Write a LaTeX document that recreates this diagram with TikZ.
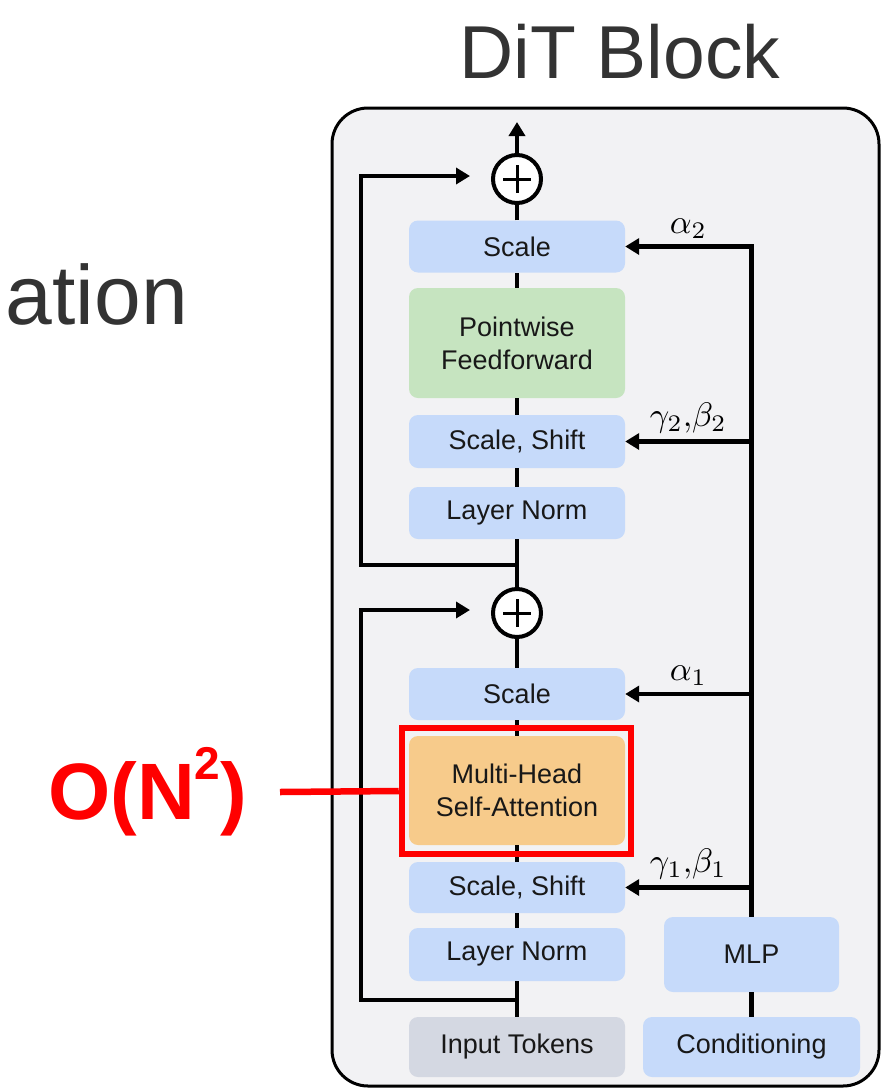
\documentclass[tikz,border=0pt]{standalone}
\usepackage{fontspec}
\usepackage{graphicx}
\setmainfont{Liberation Sans}
\usetikzlibrary{arrows.meta,calc}
\definecolor{panelbg}{RGB}{242,242,244}
\definecolor{boxblue}{RGB}{198,218,250}
\definecolor{boxgreen}{RGB}{198,228,192}
\definecolor{boxorange}{RGB}{247,203,139}
\definecolor{boxgray}{RGB}{212,216,226}
\definecolor{txtdark}{RGB}{24,24,24}
\definecolor{titlegray}{RGB}{51,51,51}
\definecolor{hired}{RGB}{255,0,0}
\begin{document}
\begin{tikzpicture}[x=1pt,y=-1pt,
  blk/.style={rounded corners=9pt, minimum width=216pt, inner sep=0pt, align=center,
    text=txtdark, font=\fontsize{27}{33}\selectfont},
  blue/.style={blk, fill=boxblue},
  line/.style={line width=4.5pt},
  arr/.style={line width=4.5pt, -{Triangle[length=14pt,width=16pt]}},
  plusc/.style={circle, draw=black, fill=white, line width=4pt, minimum size=48pt, inner sep=0pt},
  lab/.style={inner sep=0pt}
]
\useasboundingbox (0,0) rectangle (881,1090);

% titles
\node[anchor=base, text=titlegray, font=\fontsize{75}{80}\selectfont] (title) at (620,78) {DiT Block};
\node[anchor=base east, text=titlegray, font=\fontsize{84}{90}\selectfont, inner sep=0pt] (ation) at (188,324) {ation};

% panel
\draw[fill=panelbg, line width=3pt, rounded corners=36pt] (332,108) rectangle (879,1086);

% blocks
\node[blue, minimum height=52pt] (scale2) at (517,246.5) {Scale};
\node[blk, fill=boxgreen, minimum height=110pt] (ff) at (517,343) {Pointwise\\Feedforward};
\node[blue, minimum height=53pt] (ss2) at (517,441.5) {Scale, Shift};
\node[blue, minimum height=52pt] (ln2) at (517,513) {Layer Norm};
\node[plusc] (plus2) at (517,179) {};
\node[plusc] (plus1) at (517,613) {};
\node[blue, minimum height=52pt] (scale1) at (517,694) {Scale};
\node[blk, fill=boxorange, minimum height=109pt] (mhsa) at (517,790.5) {Multi-Head\\Self-Attention};
\node[blue, minimum height=51pt] (ss1) at (517,887.5) {Scale, Shift};
\node[blue, minimum height=53pt] (ln1) at (517,954.5) {Layer Norm};
\node[blk, fill=boxgray, minimum height=60pt] (inp) at (517,1047) {Input Tokens};
\node[blue, minimum width=175pt, minimum height=75pt] (mlp) at (751.5,954.5) {MLP};
\node[blue, minimum width=217pt, minimum height=60pt] (cond) at (751.5,1047) {Conditioning};

% plus signs
\foreach \p in {plus1,plus2}{
  \draw[line width=3pt] ($(\p.center)+(-14,0)$) -- ($(\p.center)+(14,0)$);
  \draw[line width=3pt] ($(\p.center)+(0,-14)$) -- ($(\p.center)+(0,14)$);
}

% coordinates
\coordinate (j1) at (517,1000);
\coordinate (j2) at (517,565);
\coordinate (c1a) at (361,1000);
\coordinate (c1b) at (361,610);
\coordinate (s1) at (470,610);
\coordinate (c2a) at (361,565);
\coordinate (c2b) at (361,176);
\coordinate (s2) at (470,176);
\coordinate (out) at (517,122);

% main column
\draw[line] (inp.north) -- (ln1.south);
\draw[line] (ln1.north) -- (ss1.south);
\draw[line] (ss1.north) -- (mhsa.south);
\draw[line] (mhsa.north) -- (scale1.south);
\draw[line] (scale1.north) -- (plus1.south);
\draw[line] (plus1.north) -- (ln2.south);
\draw[line] (ln2.north) -- (ss2.south);
\draw[line] (ss2.north) -- (ff.south);
\draw[line] (ff.north) -- (scale2.south);
\draw[line] (scale2.north) -- (plus2.south);
\draw[arr] (plus2.north) -- (out);

% skips
\draw[arr, line join=miter] (j1) -- (c1a) -- (c1b) -- (s1);
\draw[arr, line join=miter] (j2) -- (c2a) -- (c2b) -- (s2);

% conditioning
\draw[line] (cond.north) -- (mlp.south);
\draw[arr, line join=miter] (mlp.north) |- (scale2.east) node[lab, pos=0.75, above=6pt] {\scalebox{3.4}{$\alpha_2$}};
\draw[arr] (mlp.north |- ss2.east) -- (ss2.east) node[lab, midway, above=6pt] {\scalebox{3.4}{$\gamma_2{,}\beta_2$}};
\draw[arr] (mlp.north |- scale1.east) -- (scale1.east) node[lab, midway, above=6pt] {\scalebox{3.4}{$\alpha_1$}};
\draw[arr] (mlp.north |- ss1.east) -- (ss1.east) node[lab, midway, above=6pt] {\scalebox{3.4}{$\gamma_1{,}\beta_1$}};

% highlight
\node[draw=hired, line width=6.5pt, minimum width=229pt, minimum height=126pt, inner sep=0pt] (hl) at (516.5,791) {};
\node[anchor=base west, text=hired, font=\fontsize{80}{80}\selectfont\bfseries, inner sep=0pt] (onn) at (48,819)
  {O(N\raisebox{40pt}{\fontsize{46}{46}\selectfont 2})};
\coordinate (rl) at (280,792);
\draw[draw=hired, line width=6.5pt] (rl) -- (hl.west);
\end{tikzpicture}
\end{document}
